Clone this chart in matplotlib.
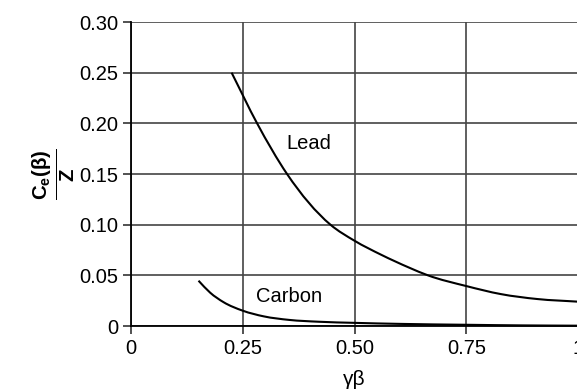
import matplotlib
matplotlib.use("Agg")
import matplotlib.pyplot as plt
from matplotlib.path import Path
from matplotlib.patches import PathPatch

plt.rcParams['font.family'] = ['Liberation Sans', 'DejaVu Sans']
plt.rcParams['mathtext.fontset'] = 'custom'
plt.rcParams['mathtext.rm'] = 'Liberation Sans'
plt.rcParams['mathtext.it'] = 'Liberation Sans'
plt.rcParams['mathtext.bf'] = 'Liberation Sans:bold'

# Data
lead_x = [0.225, 0.282, 0.349, 0.446, 0.50, 0.560, 0.622, 0.664, 0.75, 0.827, 0.909, 1.0]
lead_y = [0.250, 0.200, 0.150, 0.100, 0.0841, 0.0702, 0.0576, 0.050, 0.0394, 0.0315, 0.0266, 0.024]
carbon_x = [0.151, 0.177, 0.207, 0.25, 0.297, 0.354, 0.42, 0.50, 0.60, 0.75, 0.875, 1.0]
carbon_y = [0.0447, 0.0329, 0.0235, 0.0151, 0.0095, 0.0060, 0.0042, 0.0031, 0.0021, 0.0012, 0.0006, 0.0003]

xticks = [0, 0.25, 0.50, 0.75, 1.0]
xticklabels = ['0', '0.25', '0.50', '0.75', '1']
yticks = [0, 0.05, 0.10, 0.15, 0.20, 0.25, 0.30]
yticklabels = ['0', '0.05', '0.10', '0.15', '0.20', '0.25', '0.30']


def smooth_path(xs, ys):
    """Cubic Hermite curve through the points (three-point tangents), as Bezier segments."""
    n = len(xs)
    h = [xs[i + 1] - xs[i] for i in range(n - 1)]
    d = [(ys[i + 1] - ys[i]) / h[i] for i in range(n - 1)]
    m = [d[0]]
    for i in range(1, n - 1):
        m.append((h[i] * d[i - 1] + h[i - 1] * d[i]) / (h[i - 1] + h[i]))
    m.append(d[-1])
    verts = [(xs[0], ys[0])]
    codes = [Path.MOVETO]
    for i in range(n - 1):
        c1 = (xs[i] + h[i] / 3, ys[i] + m[i] * h[i] / 3)
        c2 = (xs[i + 1] - h[i] / 3, ys[i + 1] - m[i + 1] * h[i] / 3)
        verts += [c1, c2, (xs[i + 1], ys[i + 1])]
        codes += [Path.CURVE4] * 3
    return Path(verts, codes)


fig = plt.figure(figsize=(5.77, 3.91), dpi=100)
ax = fig.add_axes([131/577, 1-326/391, 1-131/577 + 0.002, (326-22)/391])

for xs, ys in [(lead_x, lead_y), (carbon_x, carbon_y)]:
    ax.add_patch(PathPatch(smooth_path(xs, ys), fill=False, edgecolor='black',
                           lw=1.5, zorder=3, clip_on=False))

ax.set_xlim(0, 1)
ax.set_ylim(0, 0.30)
ax.set_xticks(xticks)
ax.set_xticklabels(xticklabels)
ax.set_yticks(yticks)
ax.set_yticklabels(yticklabels)
ax.tick_params(axis='both', labelsize=14.5, length=6, width=1.2, color='#333333', pad=3)
ax.grid(True, color='#444444', lw=1.2)
ax.set_axisbelow(True)
for s in ['top', 'right']:
    ax.spines[s].set_visible(False)
for s in ['left', 'bottom']:
    ax.spines[s].set_color('black')
    ax.spines[s].set_linewidth(1.3)

ax.text(0.397, 0.18, 'Lead', fontsize=14.5, ha='center', va='center')
ax.text(0.353, 0.029, 'Carbon', fontsize=14.5, ha='center', va='center')

ax.set_xlabel('γβ', fontsize=15, labelpad=9)
ax.set_ylabel(r'$\frac{\mathbf{C_e(β)}}{\mathbf{Z}}$', fontsize=21, labelpad=2)

fig.savefig('out.png', dpi=100)
